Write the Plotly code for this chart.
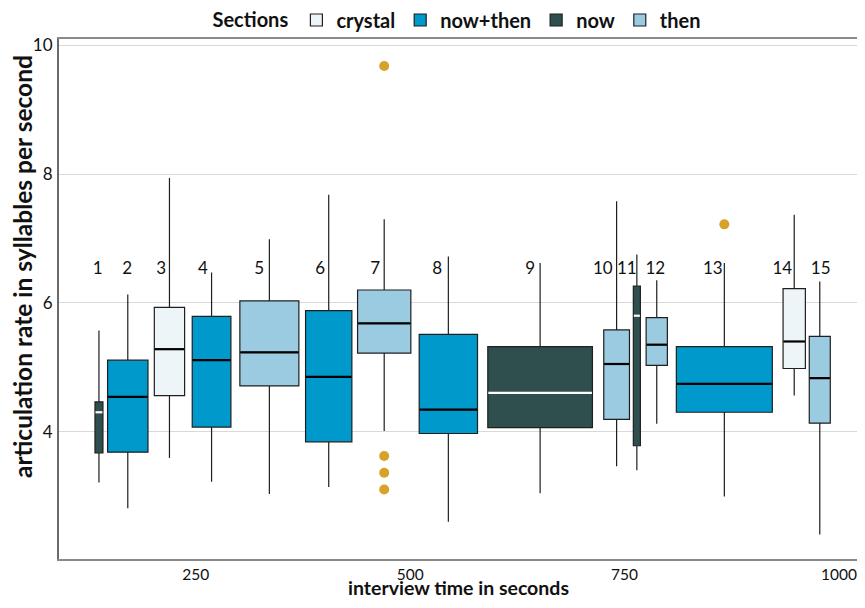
import plotly.graph_objects as go

# ---- data ----
box_ids = [str(i) for i in range(1, 16)]
sections = ["now", "now+then", "crystal", "now+then", "then", "now+then", "then",
            "now+then", "now", "then", "now", "then", "now+then", "crystal", "then"]
centers = [132.5, 166.1, 214.7, 263.8, 331.2, 400.4, 465.1, 539.9, 646.9,
           736.1, 759.7, 782.9, 861.7, 943.2, 973.0]
durations = [9.3, 47.1, 35.3, 45.1, 68.8, 54.0, 62.1, 68.0, 122.0,
             30.0, 8.2, 24.8, 111.9, 26.0, 24.5]
lower = [3.21, 2.81, 3.59, 3.22, 3.03, 3.14, 4.01, 2.60, 3.04, 3.46, 3.40, 4.12, 2.99, 4.56, 2.40]
q1 = [3.67, 3.68, 4.56, 4.07, 4.71, 3.84, 5.22, 3.97, 4.06, 4.19, 3.78, 5.03, 4.30, 4.98, 4.13]
median = [4.30, 4.54, 5.28, 5.11, 5.23, 4.85, 5.68, 4.34, 4.60, 5.05, 5.80, 5.35, 4.74, 5.40, 4.83]
q3 = [4.46, 5.11, 5.93, 5.79, 6.03, 5.88, 6.20, 5.51, 5.32, 5.58, 6.26, 5.77, 5.32, 6.22, 5.48]
upper = [5.57, 6.13, 7.94, 6.47, 6.99, 7.68, 7.30, 6.72, 6.62, 7.58, 6.75, 6.35, 6.62, 7.37, 6.33]

label_x = [130.9, 165.5, 205.1, 253.7, 319.4, 390.5, 454.6, 526.8, 635.2,
           720.0, 748.0, 781.3, 848.2, 929.3, 974.1]
label_y = 6.51

outlier_x = [465.1, 465.1, 465.1, 465.1, 861.7]
outlier_y = [9.68, 3.62, 3.36, 3.10, 7.22]

section_order = ["crystal", "now+then", "now", "then"]
section_colors = {"crystal": "#EEF5F8", "now+then": "#0099CC", "now": "#2F4F4F", "then": "#9ACBE0"}
median_colors = {"crystal": "#000000", "now+then": "#000000", "now": "#FFFFFF", "then": "#000000"}

x_ticks = [250, 500, 750, 1000]
y_ticks = [4, 6, 8, 10]

x_title = "interview time in seconds"
y_title = "articulation rate in syllables per second"

FONT = "Lato, 'Noto Sans', sans-serif"

# page body has an 8px margin on every side: size the figure to fit the window
W, H = 849, 592
ML, MR, MT, MB = 51, 0, 31, 41

fig = go.Figure()

shown = set()
for i in range(len(box_ids)):
    sec = sections[i]
    fig.add_trace(go.Box(
        x=[centers[i]], q1=[q1[i]], median=[median[i]], q3=[q3[i]],
        lowerfence=[lower[i]], upperfence=[upper[i]],
        width=durations[i], whiskerwidth=0,
        fillcolor=section_colors[sec],
        line=dict(color="#1f1f1f", width=1.2),
        name=sec, legendgroup=sec, showlegend=sec not in shown,
        legendrank=section_order.index(sec) + 1,
        boxpoints=False, hoverinfo="skip",
    ))
    shown.add(sec)

# median lines drawn on top
for i in range(len(box_ids)):
    sec = sections[i]
    half = durations[i] / 2
    fig.add_trace(go.Scatter(
        x=[centers[i] - half + 0.6, centers[i] + half - 0.6], y=[median[i], median[i]],
        mode="lines", line=dict(color=median_colors[sec], width=2.2),
        showlegend=False, hoverinfo="skip",
    ))

fig.add_trace(go.Scatter(
    x=outlier_x, y=outlier_y, mode="markers",
    marker=dict(color="#D6A22B", size=10, line=dict(width=0)),
    showlegend=False, hoverinfo="skip",
))

fig.add_trace(go.Scatter(
    x=label_x, y=[label_y] * len(label_x), mode="text", text=box_ids,
    textfont=dict(family=FONT, size=17, color="#111111"),
    showlegend=False, hoverinfo="skip",
))

plot_h = H - MT - MB
plot_w = W - ML - MR
# axis titles
fig.add_annotation(
    text=y_title, textangle=-90, showarrow=False,
    xref="paper", yref="paper",
    x=(14 - ML) / plot_w, y=(H - MB - 259) / plot_h,
    xanchor="center", yanchor="middle",
    font=dict(family=FONT, size=24.5, weight="bold", color="#111111"),
)
fig.add_annotation(
    text=x_title, showarrow=False,
    xref="paper", yref="paper",
    x=0.5, y=-(H - (H - MB)) / plot_h, yanchor="bottom",
    xanchor="center", yshift=-1,
    font=dict(family=FONT, size=19.5, weight="bold", color="#111111"),
)

fig.update_layout(
    template="none",
    width=W, height=H,
    margin=dict(l=ML, r=MR, t=MT, b=MB, autoexpand=False),
    plot_bgcolor="white", paper_bgcolor="white",
    font=dict(family=FONT, size=16, color="#111111"),
    showlegend=True,
    legend=dict(
        orientation="h", x=0.5, xanchor="center",
        yref="container", y=1 - 12 / H, yanchor="middle",
        bgcolor="rgba(0,0,0,0)",
        title=dict(text="Sections", font=dict(family=FONT, size=20, weight="bold")),
        font=dict(family=FONT, size=20, weight="bold"),
        itemwidth=30, tracegroupgap=0,
    ),
    xaxis=dict(
        range=[85.9, 1016.4], tickvals=x_ticks, ticktext=[str(v) for v in x_ticks],
        showgrid=False, zeroline=False, automargin=False,
        showline=True, linecolor="#8a8a8a", linewidth=2, mirror=True,
        ticks="", ticklabelstandoff=0, ticklabelshift=-4, ticklabeloverflow="allow",
        tickfont=dict(size=15.5),
    ),
    yaxis=dict(
        range=[2.02, 10.10], tickvals=y_ticks, ticktext=[str(v) for v in y_ticks],
        showgrid=True, gridcolor="#D9D9D9", gridwidth=1.3, zeroline=False, automargin=False,
        showline=True, linecolor="#6a6a6a", linewidth=2,
        ticks="", ticklabelstandoff=1,
        tickfont=dict(size=17),
    ),
)

fig.write_html("out.html")
